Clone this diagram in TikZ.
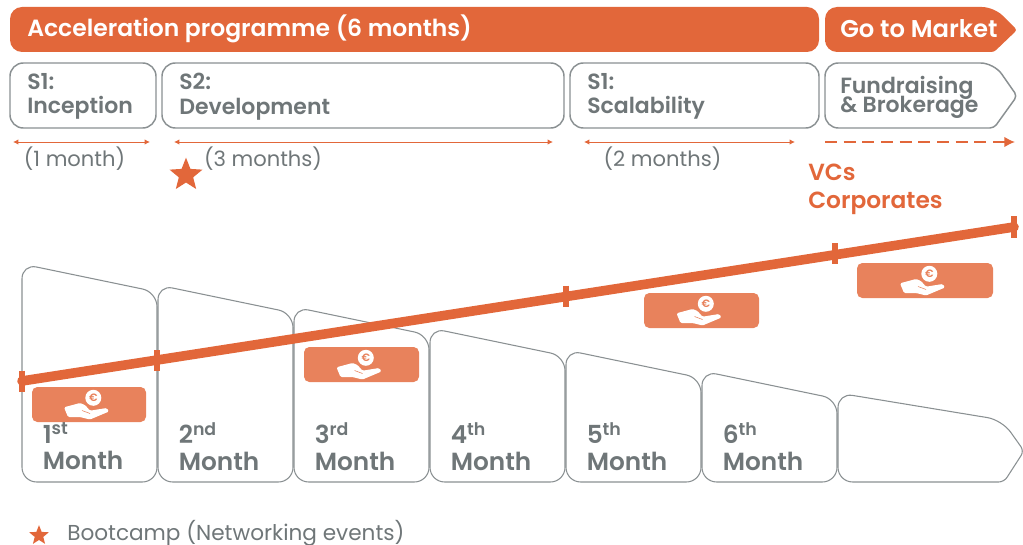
\documentclass[tikz,border=0pt]{standalone}
\usepackage{fontspec}
\usepackage{xcolor}
\setmainfont{Poppins}[BoldFont={Poppins SemiBold}]
\usetikzlibrary{shapes,arrows,positioning,calc,arrows.meta}
\definecolor{brandorange}{HTML}{E2673A}
\definecolor{softorange}{HTML}{E8825C}
\definecolor{textgray}{HTML}{6F7678}
\definecolor{linegray}{HTML}{8A9092}
\AtBeginDocument{\lineskiplimit=-20pt\relax}
\tikzset{
    banner/.style={fill=brandorange, draw=none, rounded corners=9},
    bannertext/.style={anchor=west, inner sep=0pt, text=white, font=\fontsize{17.6}{18}\selectfont\bfseries},
    stagebox/.style={draw=linegray, line width=1.1pt, rounded corners=10, fill=white},
    stagetext/.style={anchor=north west, inner sep=0pt, align=left, text=textgray, font=\fontsize{16.5}{18.5}\selectfont\bfseries},
    monthshape/.style={draw=linegray, line width=0.8pt, rounded corners=11},
    monthtext/.style={anchor=north west, inner sep=0pt, align=left, text=textgray, font=\fontsize{18.6}{20}\selectfont\bfseries},
    spanarrow/.style={brandorange, line width=0.7pt, {Latex[length=4pt,width=4pt]}-{Latex[length=4pt,width=4pt]}},
    durationtext/.style={text=textgray, inner sep=0pt, font=\fontsize{15.8}{16}\selectfont},
    moneybox/.style={fill=softorange, draw=none, rounded corners=4},
    starmark/.style={star, star points=5, star point ratio=2.3, fill=brandorange, draw=none, inner sep=0pt},
    pics/coinhand/.style={code={
        \fill[white, rounded corners=1] (-25,2.8) -- (-9,-1.5) -- (-4,0.5) -- (1,6.2) -- (17.7,3.5) -- (20,7)
            -- (1,15) -- (-9,12.5) -- (-21,12.5) -- cycle;
        \draw[softorange, line width=0.4pt] (-7,6) -- (1,9);
        \fill[white] (4.3,-6.7) circle (8);
        \node[text=softorange, font=\fontsize{8}{8}\selectfont\bfseries, inner sep=0pt] at (4.3,-6.7) {€};
    }}
}
\begin{document}
\begin{tikzpicture}[x=0.75pt,y=-0.75pt]
    \useasboundingbox (0,0) rectangle (1023,545);

    % Top banners
    \fill[banner] (10,7) rectangle (819,52);
    \fill[banner] (825,30) -- (825,7) -- (994,7) [rounded corners=2] -- (1017,30) -- (994,52) [rounded corners=9] -- (825,52) -- cycle;
    \node[bannertext] (programme) at (27,29) {Acceleration programme (6 months)};
    \node[bannertext, font=\fontsize{18.2}{18}\selectfont\bfseries] (market) at (840,29) {Go to Market};

    % Stage boxes
    \draw[stagebox] (10,63) rectangle (156,128);
    \draw[stagebox] (162,63) rectangle (564,128);
    \draw[stagebox] (570,63) rectangle (819,128);
    \draw[stagebox] (825,96) -- (825,63) -- (994,63) [rounded corners=3] -- (1017,96) -- (994,128) [rounded corners=10] -- (825,128) -- cycle;
    \node[stagetext] (inception) at (27,73) {S1:\\Inception};
    \node[stagetext] (development) at (179,73) {S2:\\Development};
    \node[stagetext] (scalability) at (587,73) {S1:\\Scalability};
    \node[stagetext, font=\fontsize{16.5}{14}\selectfont\bfseries] (brokerage) at (840,76) {Fundraising\\\& Brokerage};

    % Duration arrows
    \coordinate (a1) at (13,142);  \coordinate (b1) at (150,142);
    \coordinate (a2) at (174,142); \coordinate (b2) at (553,142);
    \coordinate (a3) at (584,142); \coordinate (b3) at (795,142);
    \coordinate (a4) at (825,142); \coordinate (b4) at (1015,142);
    \draw[spanarrow] (a1) -- (b1);
    \draw[spanarrow] (a2) -- (b2);
    \draw[spanarrow] (a3) -- (b3);
    \draw[brandorange, line width=1.4pt, dash pattern=on 9pt off 5pt, -{Latex[length=8pt,width=8pt]}] (a4) -- (b4);

    \node[durationtext] (onemonth) at (74.5,158.5) {(1 month)};
    \node[durationtext] (threemonths) at (263,158.5) {(3 months)};
    \node[durationtext] (twomonths) at (662.5,158.5) {(2 months)};
    \node[starmark, minimum size=26pt] (bootstar) at (186,175) {};

    \node[anchor=north west, align=left, text=brandorange, inner sep=0pt,
        font=\fontsize{17.5}{21}\selectfont\bfseries] (investors) at (808,164) {VCs\\Corporates};

    % Month shapes
    \foreach \x/\y/\lab in {22/264/1\textsuperscript{st}, 158/285/2\textsuperscript{nd}, 294/307/3\textsuperscript{rd},
            430/328/4\textsuperscript{th}, 566/350/5\textsuperscript{th}, 702/371/6\textsuperscript{th}} {
        \draw[monthshape] (\x,482) -- (\x,\y) -- ({\x+135},{\y+28}) -- ({\x+135},482) -- cycle;
        \node[monthtext] (month\x) at ({\x+20.5},422.5) {\lab\\Month};
    }
    \draw[monthshape] (838,482) -- (838,393) -- (1002,420) [rounded corners=4] -- (1024,451) -- (1004,482) [rounded corners=11] -- cycle;

    % Timeline
    \coordinate (t0) at (22,381);
    \coordinate (t1) at (157,360.5);
    \coordinate (t2) at (566,296);
    \coordinate (t3) at (835,253.5);
    \coordinate (t4) at (1014,227);
    \draw[brandorange, line width=7.2pt, line cap=round] (t0) -- (t4);
    \foreach \t in {t0,t1,t2,t3,t4}
        \draw[brandorange, line width=4pt] ($(\t)+(0,-10.5)$) -- ($(\t)+(0,10.5)$);

    % Funding boxes
    \foreach \n/\xa/\ya/\xb in {m1/32/387/146, m2/304/347/419, m3/644/293/759, m4/857/263/993} {
        \fill[moneybox] (\xa,\ya) rectangle (\xb,{\ya+35});
        \coordinate (\n) at ({(\xa+\xb)/2},{\ya+17.5});
        \pic at (\n) {coinhand};
    }

    % Legend
    \node[starmark, minimum size=15.5pt] (legendstar) at (39,535.5) {};
    \node[anchor=west, inner sep=0pt, text=textgray, font=\fontsize{16.2}{16}\selectfont] (legendtext) at (67,533) {Bootcamp (Networking events)};
\end{tikzpicture}
\end{document}
